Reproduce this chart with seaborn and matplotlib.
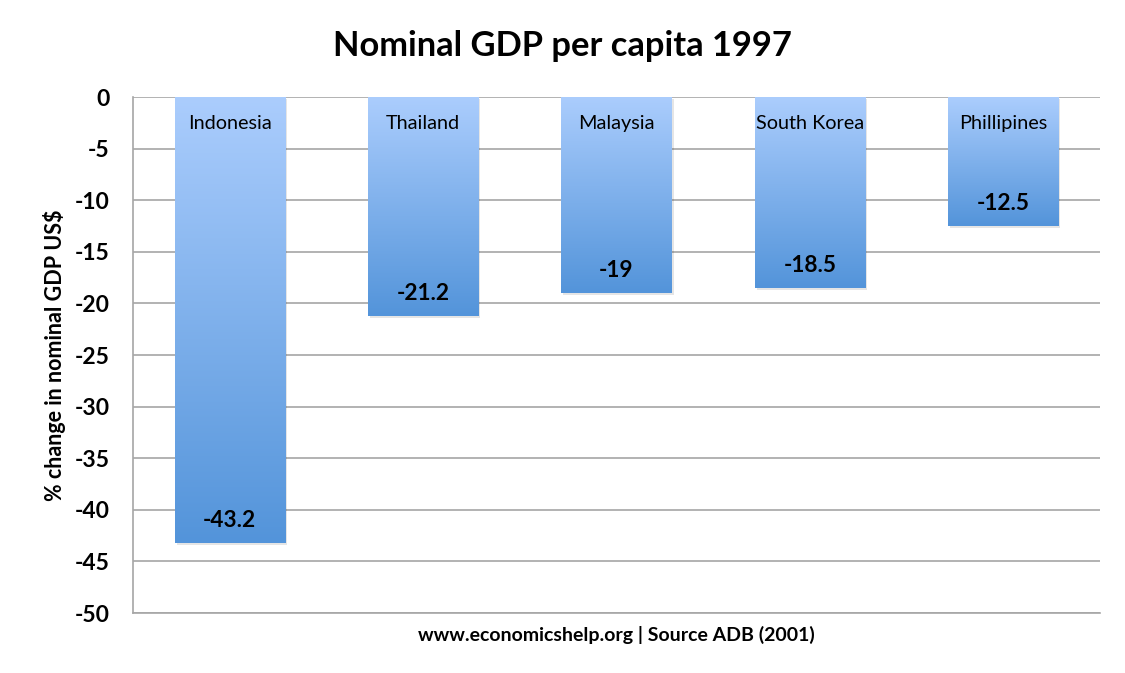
import numpy as np
import pandas as pd
import matplotlib
matplotlib.use('Agg')
import matplotlib.pyplot as plt
import seaborn as sns
from matplotlib.colors import LinearSegmentedColormap

countries = ['Indonesia', 'Thailand', 'Malaysia', 'South Korea', 'Phillipines']
gdp_change = [-43.2, -21.2, -19, -18.5, -12.5]
value_labels = ['-43.2', '-21.2', '-19', '-18.5', '-12.5']

df = pd.DataFrame({'country': countries, 'change': gdp_change})

sns.set_style('white')
plt.rcParams['font.family'] = ['Lato', 'DejaVu Sans']
plt.rcParams['axes.unicode_minus'] = False

fig = plt.figure(figsize=(11.25, 6.73), dpi=100)
ax = fig.add_axes([133 / 1125, 1 - 613 / 673, (1100 - 133) / 1125, (613 - 97) / 673])

ax = sns.barplot(data=df, x='country', y='change', width=0.57, color='#7fb0ee', ax=ax, zorder=2)

# gradient fill per bar: light at top, darker at the bar end
cmap = LinearSegmentedColormap.from_list('bar', ['#abcdfd', '#5394da'])
grad = np.linspace(0, 1, 256).reshape(-1, 1)
for p in ax.patches:
    x0, y0 = p.get_x(), p.get_y()
    w, h = p.get_width(), p.get_height()
    top, bot = max(y0, y0 + h), min(y0, y0 + h)
    # soft shadow
    sh = plt.Rectangle((x0 + 0.01, bot - 0.22), w, top - bot, color='#000000', alpha=0.10, zorder=1.5, lw=0)
    ax.add_patch(sh)
    im = ax.imshow(grad, aspect='auto', cmap=cmap, extent=(x0, x0 + w, bot, top), zorder=2.5, origin='upper')
    im.set_clip_path(p)
    p.set_edgecolor('none')

ax.set_xlim(-0.5, 4.5)
ax.set_ylim(-50, 0)
ax.set_yticks(range(-50, 1, 5))
ax.yaxis.grid(True, color='#a6a6a6', lw=1.2, zorder=0)
ax.set_axisbelow(True)
ax.set_xticks([])
for s in ['top', 'right']:
    ax.spines[s].set_visible(False)
for s in ['left', 'bottom']:
    ax.spines[s].set_color('#a6a6a6')
    ax.spines[s].set_linewidth(1.2)
ax.tick_params(axis='y', length=0, pad=17, labelsize=16.5, labelcolor='black')
for t in ax.get_yticklabels():
    t.set_fontweight('bold')

for i, (c, v, lab) in enumerate(zip(countries, gdp_change, value_labels)):
    ax.text(i, -2.6, c, ha='center', va='center', fontsize=14.3, color='black', zorder=4)
    ax.text(i, v + 2.2, lab, ha='center', va='center', fontsize=16.3, fontweight='bold', color='black', zorder=4)

ax.set_xlabel('www.economicshelp.org | Source ADB (2001)', fontsize=14, fontweight='bold', labelpad=9, color='black')
ax.set_ylabel('% change in nominal GDP US$', fontsize=15.5, fontweight='bold', labelpad=6, color='black')
fig.suptitle('Nominal GDP per capita 1997', fontsize=24.8, fontweight='bold', y=0.955, color='black')

fig.savefig('out.png', dpi=100)
